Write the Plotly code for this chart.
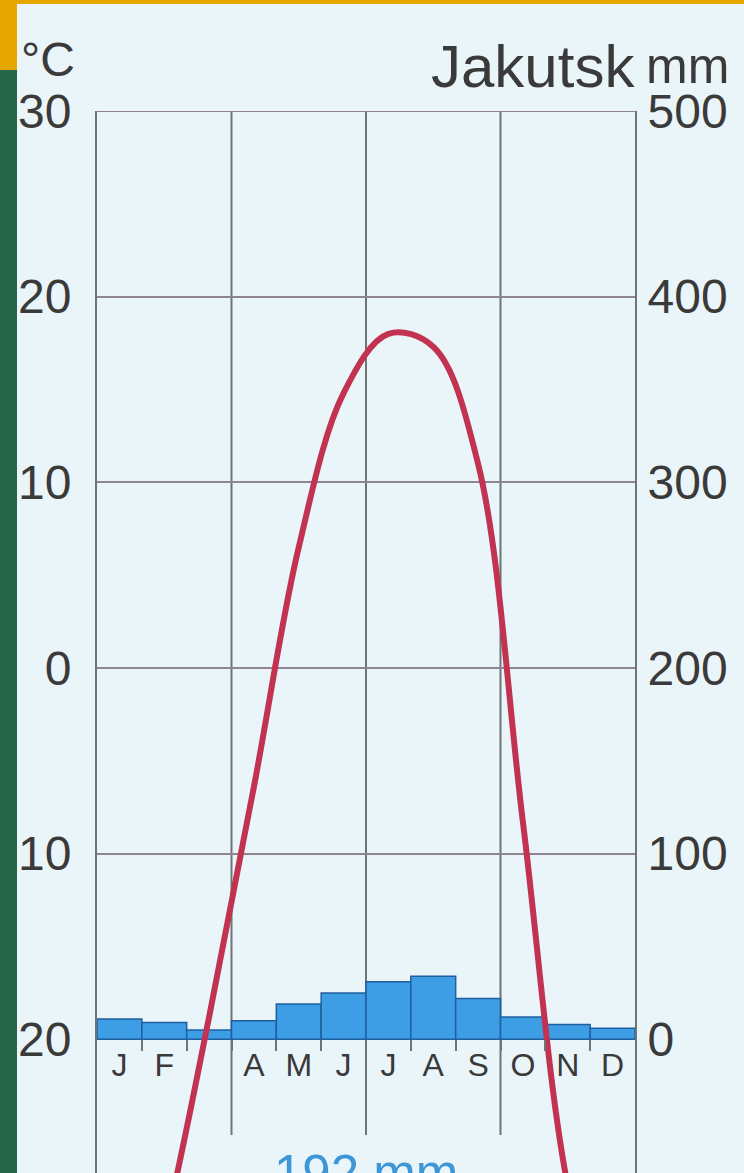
import plotly.graph_objects as go

# ---- data ----
months = ["J", "F", "M", "A", "M", "J", "J", "A", "S", "O", "N", "D"]
month_labels = ["J", "F", "", "A", "M", "J", "J", "A", "S", "O", "N", "D"]  # March label is not printed
temperature = [-39.0, -30.3, -18.8, -6.4, 6.5, 14.8, 18.0, 17.3, 11.0, -8.3, -27.9, -37.0]
precipitation = [11, 9, 5, 10, 19, 25, 31, 34, 22, 12, 8, 6]
temp_ticks = [30, 20, 10, 0, -10, -20]
temp_tick_text = ["30", "20", "10", "0", "-10", "-20"]
precip_ticks = [0, 100, 200, 300, 400, 500]
station = "Jakutsk"

# ---- geometry / style ----
W, H = 744, 1173
ML, MR, MT, MB = 97, 109, 111, 0
PLOT_H = H - MT - MB
T_MAX = 30
T_MIN = -27.2
P_PER_DEG = 10.0
P_MIN = (T_MIN - (-20)) * P_PER_DEG
P_MAX = (T_MAX - (-20)) * P_PER_DEG

BG = "#eaf5f9"
TEXT = "#3a3a3a"
GRID_H = "#8f8492"
GRID_V = "#6f7477"
RED = "#c23352"
BAR = "#3d9de5"
BAR_EDGE = "#1f5f9e"
BLUE_TXT = "#3d96d6"
FONT = "Liberation Sans, Arial, sans-serif"


def py(pix):
    """page pixel y -> paper y"""
    return (H - MB - pix) / PLOT_H


def px(pix):
    """page pixel x -> paper x"""
    return (pix - ML) / (W - ML - MR)


x_centers = [i + 0.5 for i in range(len(months))]

fig = go.Figure()
fig.add_trace(go.Bar(
    x=x_centers, y=precipitation, width=1.0,
    marker=dict(color=BAR, line=dict(color=BAR_EDGE, width=1.5)),
    xaxis="x", yaxis="y", hoverinfo="skip",
))
fig.add_trace(go.Scatter(
    x=x_centers, y=temperature, mode="lines",
    line=dict(color=RED, width=6, shape="spline", smoothing=1.0),
    xaxis="x", yaxis="y2", hoverinfo="skip",
))

pos_base = (-20 - T_MIN) / (T_MAX - T_MIN)

shapes = []
for xv in [3, 6, 9]:
    shapes.append(dict(type="line", xref="x", yref="y2", x0=xv, x1=xv, y0=-25.15, y1=T_MAX,
                       line=dict(color=GRID_V, width=2), layer="below"))
shapes.append(dict(type="line", xref="x", yref="y2", x0=0, x1=12, y0=T_MAX, y1=T_MAX,
                   line=dict(color=GRID_H, width=2), layer="below"))
# frame of the photographed page
shapes.append(dict(type="rect", xref="paper", yref="paper", x0=px(-5), x1=px(17), y0=py(H + 5), y1=py(-5),
                   fillcolor="#28664a", line=dict(width=0), layer="above"))
shapes.append(dict(type="rect", xref="paper", yref="paper", x0=px(-5), x1=px(17), y0=py(70), y1=py(-5),
                   fillcolor="#e6a800", line=dict(width=0), layer="above"))
shapes.append(dict(type="rect", xref="paper", yref="paper", x0=px(-5), x1=px(W + 5), y0=py(4), y1=py(-5),
                   fillcolor="#e6a800", line=dict(width=0), layer="above"))

annotations = [
    dict(text=station, xref="paper", yref="paper", x=px(637), y=py(102), xanchor="right", yanchor="bottom",
         showarrow=False, font=dict(family=FONT, size=60, color=TEXT)),
    dict(text="mm", xref="paper", yref="paper", x=px(644), y=py(96), xanchor="left", yanchor="bottom",
         showarrow=False, font=dict(family=FONT, size=50, color=TEXT)),
    dict(text="°C", xref="paper", yref="paper", x=px(19), y=py(88), xanchor="left", yanchor="bottom",
         showarrow=False, font=dict(family=FONT, size=48, color=TEXT)),
    dict(text=f"{sum(precipitation)} mm", xref="x", yref="paper", x=6, y=py(1143), xanchor="center",
         yanchor="top", showarrow=False, font=dict(family=FONT, size=51, color=BLUE_TXT)),
]

fig.update_layout(
    width=W, height=H,
    margin=dict(l=ML, r=MR, t=MT, b=MB, pad=0, autoexpand=False),
    paper_bgcolor=BG, plot_bgcolor=BG,
    showlegend=False, bargap=0,
    font=dict(family=FONT, color=TEXT),
    xaxis=dict(
        range=[0, 12], anchor="free", position=pos_base, automargin=False,
        showgrid=False, zeroline=False, showline=False,
        tickmode="array", tickvals=x_centers, ticktext=month_labels,
        ticks="", tickfont=dict(size=32, color=TEXT), ticklabelstandoff=4,
        minor=dict(tickmode="array", tickvals=list(range(1, 12)), ticks="outside",
                   ticklen=11, tickwidth=2, tickcolor=GRID_V, showgrid=False),
    ),
    yaxis=dict(
        range=[P_MIN, P_MAX], side="right", automargin=False,
        tickmode="array", tickvals=precip_ticks,
        showgrid=True, gridcolor=GRID_H, gridwidth=2, zeroline=False,
        showline=True, linecolor=GRID_V, linewidth=2,
        ticks="", tickfont=dict(size=48, color=TEXT), ticklabelstandoff=1,
    ),
    yaxis2=dict(
        range=[T_MIN, T_MAX], side="left", overlaying="y", automargin=False,
        tickmode="array", tickvals=temp_ticks, ticktext=temp_tick_text,
        showgrid=False, zeroline=False,
        showline=True, linecolor=GRID_V, linewidth=2,
        ticks="", tickfont=dict(size=48, color=TEXT), ticklabelstandoff=14,
    ),
    shapes=shapes, annotations=annotations,
)

fig.write_html(
    "out.html",
    config={"displayModeBar": False, "staticPlot": True},
    post_script="document.body.style.margin='0';document.body.style.background='" + BG + "';",
)
